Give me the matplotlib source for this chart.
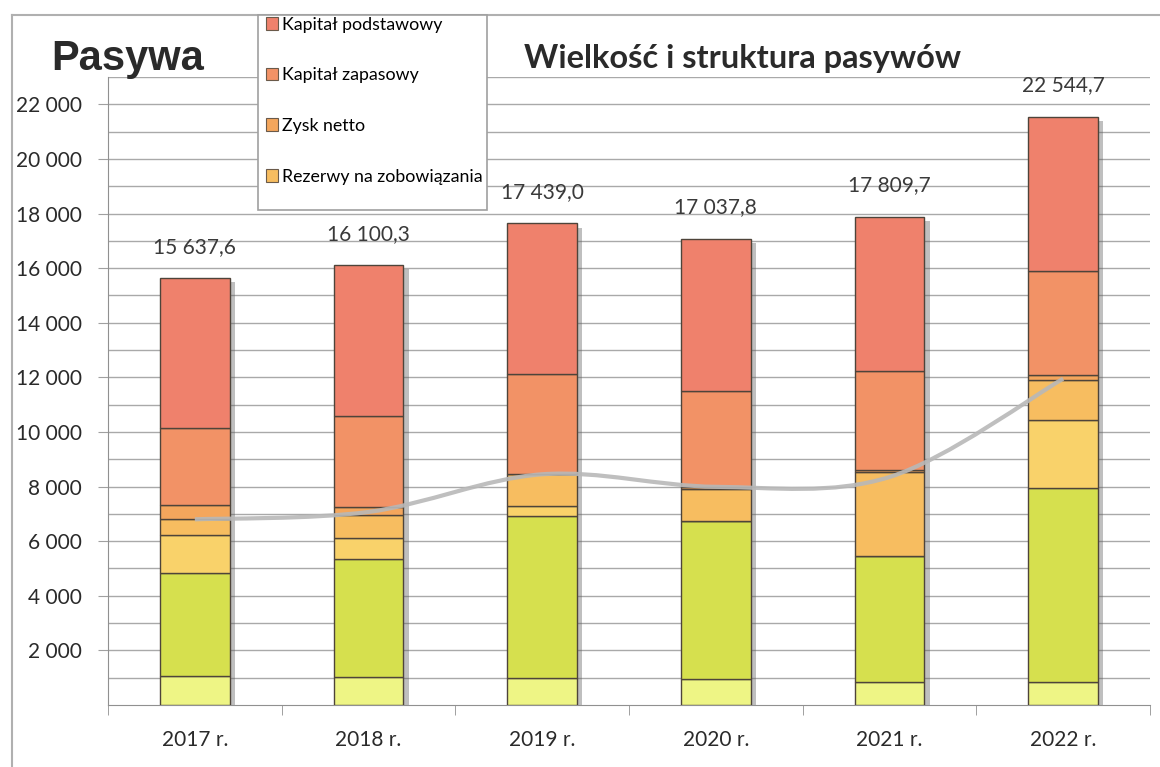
import numpy as np
import matplotlib
matplotlib.use('Agg')
import matplotlib.pyplot as plt
from matplotlib.patches import Patch, Rectangle, PathPatch
from matplotlib.path import Path
from matplotlib.lines import Line2D
import matplotlib.patheffects as pe

plt.rcParams['font.family'] = ['Lato', 'DejaVu Sans']

# dane
years = ['2017 r.', '2018 r.', '2019 r.', '2020 r.', '2021 r.', '2022 r.']
total_labels = ['15 637,6', '16 100,3', '17 439,0', '17 037,8', '17 809,7', '22 544,7']

# od dołu do góry
seria_7 = [1060, 1040, 1000, 950, 850, 840]
seria_6 = [3770, 4310, 5920, 5800, 4600, 7100]
seria_5 = [1390, 770, 370, 0, 0, 2480]
rezerwy = [590, 840, 1170, 1150, 3090, 1490]
zysk_netto = [510, 300, 0, 100, 50, 180]
kapital_zapasowy = [2820, 3330, 3660, 3510, 3640, 3820]
kapital_podstawowy = [5490, 5520, 5520, 5560, 5650, 5630]

# szara wygładzona linia
trend = [6800, 7070, 8450, 7990, 8350, 11950]

series = [
    ('seria 7', seria_7, '#eef585'),
    ('seria 6', seria_6, '#d6e04e'),
    ('seria 5', seria_5, '#f9d26a'),
    ('Rezerwy na zobowiązania', rezerwy, '#f7bd60'),
    ('Zysk netto', zysk_netto, '#f4a65c'),
    ('Kapitał zapasowy', kapital_zapasowy, '#f29266'),
    ('Kapitał podstawowy', kapital_podstawowy, '#ef816c'),
]

W, H = 1160, 767
fig = plt.figure(figsize=(W / 100, H / 100), dpi=100)
ax = fig.add_axes([108 / W, 62 / H, (1150 - 108) / W, (705 - 77) / H])

x = np.arange(len(years))
width = 0.4
totals = np.sum([s[1] for s in series], axis=0)

# cień za słupkami
ax.bar(x, totals, width, color='white', zorder=2.5,
       path_effects=[pe.SimplePatchShadow(offset=(4, -3), shadow_rgbFace='#606060', alpha=0.4), pe.Normal()])

bottom = np.zeros(len(years))
handles = {}
for name, vals, col in series:
    ax.bar(x, vals, width, bottom=bottom, color=col, edgecolor='#4e443a', linewidth=1.0, zorder=3)
    handles[name] = Patch(facecolor=col, edgecolor='#6a5a4a', linewidth=0.8)
    bottom += np.array(vals)

# wygładzona linia (Catmull-Rom -> Bezier)
pts = np.column_stack([x, trend]).astype(float)
verts = [pts[0]]
codes = [Path.MOVETO]
for i in range(len(pts) - 1):
    p0 = pts[i - 1] if i > 0 else pts[i]
    p1, p2 = pts[i], pts[i + 1]
    p3 = pts[i + 2] if i + 2 < len(pts) else pts[i + 1]
    verts += [p1 + (p2 - p0) / 6, p2 - (p3 - p1) / 6, p2]
    codes += [Path.CURVE4] * 3
ax.add_patch(PathPatch(Path(verts, codes), facecolor='none', edgecolor='#b8b8b8', lw=3, alpha=0.9, zorder=4))

for xi, t, lab in zip(x, totals, total_labels):
    ax.text(xi, t + 1150, lab, ha='center', va='center', fontsize=15, color='#3a3a3a', zorder=5)

ax.set_xlim(-0.5, 5.5)
ax.set_ylim(0, 23000)
ax.set_yticks(range(2000, 22001, 2000))
ax.set_yticklabels([f'{v:,}'.replace(',', ' ') for v in range(2000, 22001, 2000)], fontsize=15, color='#2a2a2a')
ax.set_yticks(range(1000, 23001, 1000), minor=True)
ax.yaxis.grid(True, which='both', color='#a9a9a9', linewidth=1.0)
ax.set_axisbelow(True)
ax.tick_params(axis='y', which='major', length=7, color='#a0a0a0', pad=12)
ax.tick_params(axis='y', which='minor', length=0)

ax.set_xticks(x)
ax.set_xticklabels(years, fontsize=15, color='#2a2a2a')
ax.set_xticks(np.arange(-0.5, 6, 1), minor=True)
ax.tick_params(axis='x', which='major', length=0, pad=18)
ax.tick_params(axis='x', which='minor', length=7, color='#909090', direction='out')

for s in ['top', 'right']:
    ax.spines[s].set_visible(False)
for s in ['left', 'bottom']:
    ax.spines[s].set_color('#909090')

# ramka
fig.add_artist(Line2D([12 / W, 12 / W], [0, 1 - 15 / H], color='#b0b0b0', lw=1.5))
fig.add_artist(Line2D([12 / W, 1], [1 - 15 / H, 1 - 15 / H], color='#b0b0b0', lw=1.5))

# tytuły
fig.text(128 / W, 1 - 70 / H, 'Pasywa', ha='center', va='baseline', fontsize=30,
         fontweight='bold', family='Liberation Sans', color='#2a2a2a')
fig.text(743 / W, 1 - 68 / H, 'Wielkość i struktura pasywów', ha='center', va='baseline',
         fontsize=23.5, fontweight='bold', color='#2a2a2a')

# legenda
fig.add_artist(Rectangle((258 / W, 1 - 210 / H), (487 - 258) / W, (210 - 15) / H,
                         facecolor='white', edgecolor='#a0a0a0', lw=1.2, transform=fig.transFigure, zorder=4))
leg_names = ['Kapitał podstawowy', 'Kapitał zapasowy', 'Zysk netto', 'Rezerwy na zobowiązania']
leg = fig.legend([handles[n] for n in leg_names], leg_names, loc='upper left',
                 bbox_to_anchor=(262 / W, 1 - 13 / H), frameon=False, fontsize=12.8,
                 labelspacing=1.95, handlelength=0.7, handleheight=0.7, handletextpad=0.25,
                 borderpad=0.2, borderaxespad=0)
leg.set_zorder(6)

fig.savefig('out.png', dpi=100)
